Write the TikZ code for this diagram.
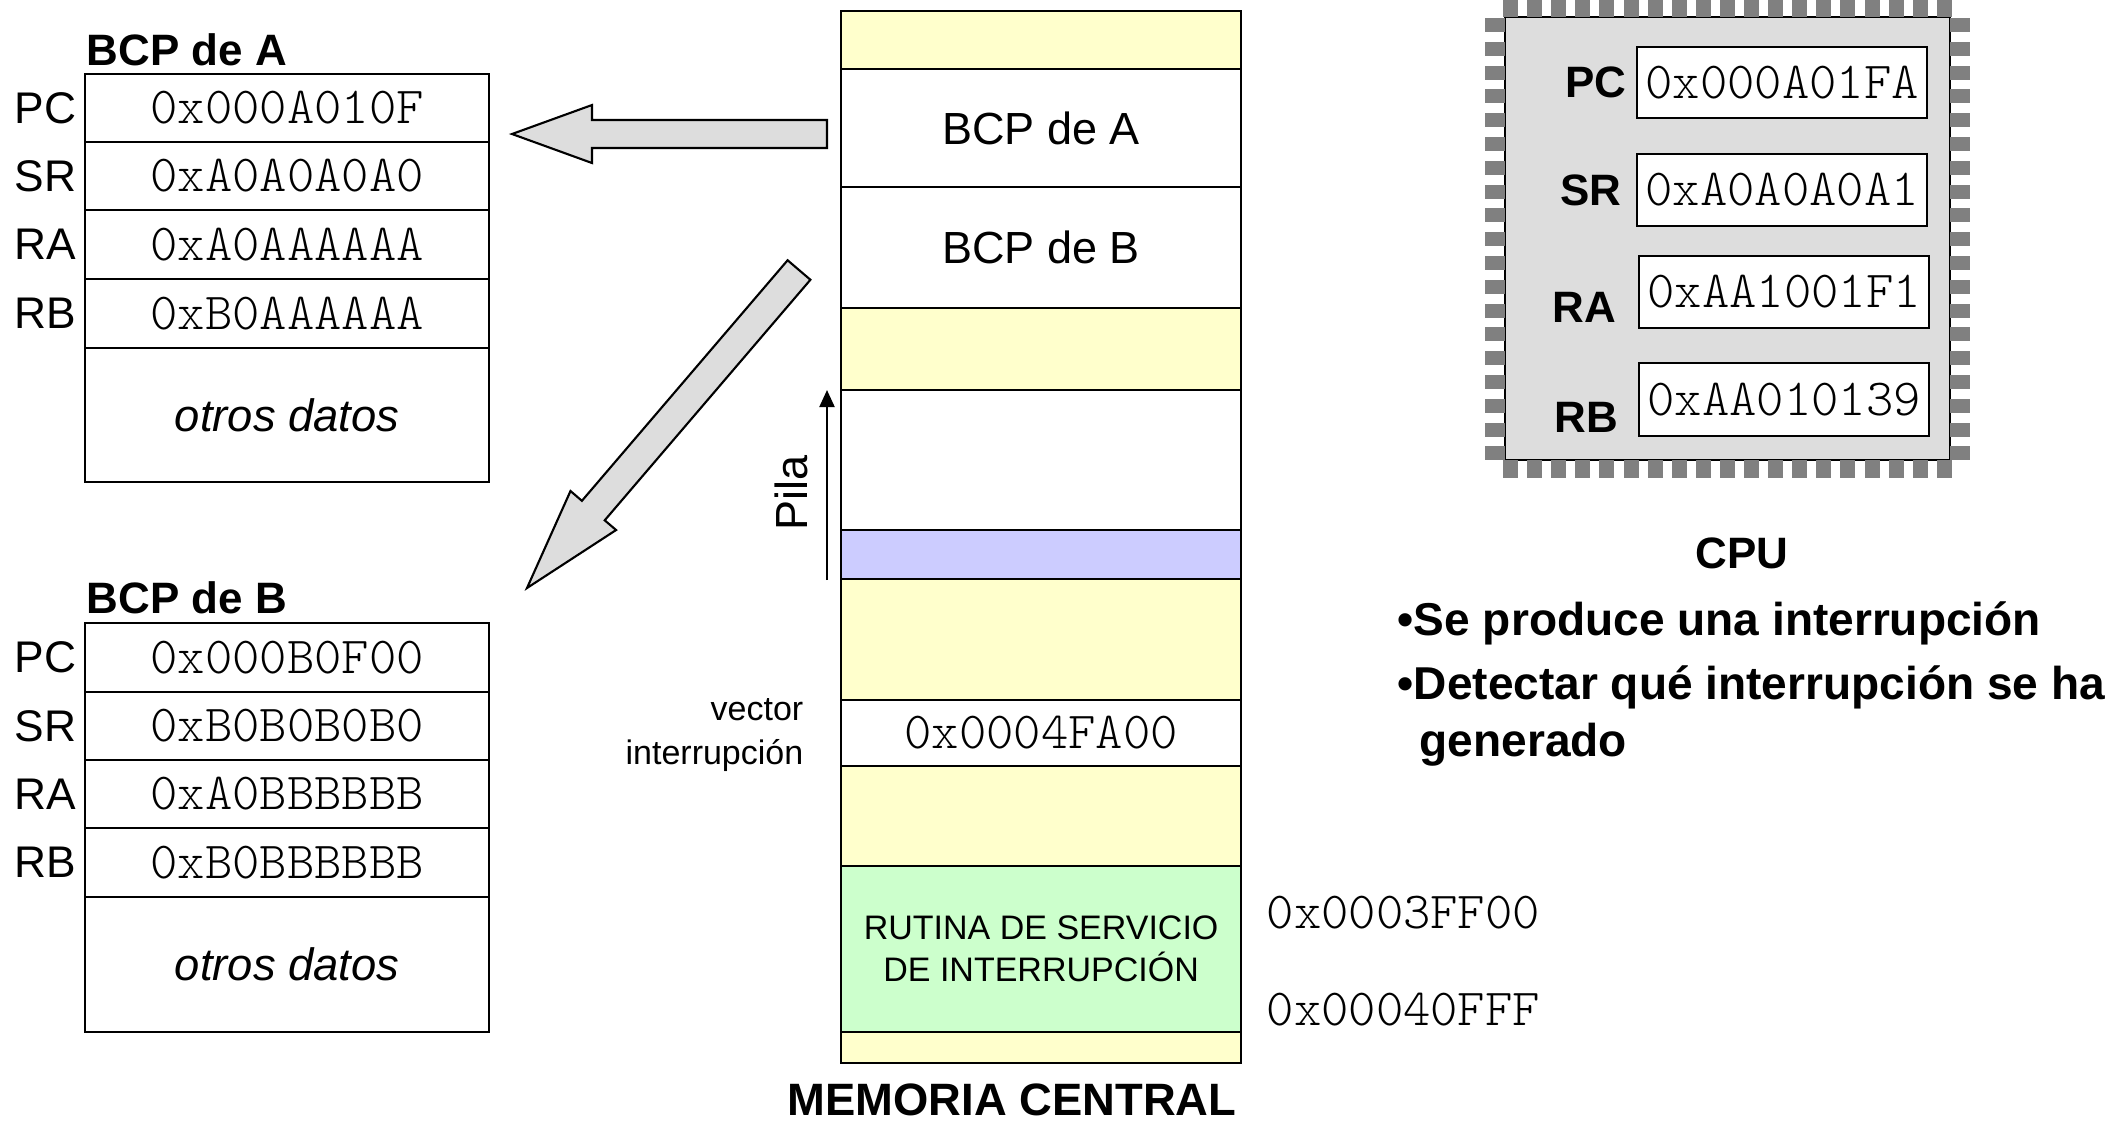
\documentclass[tikz,border=0pt]{standalone}
\usepackage{fontspec}
\setmainfont{Liberation Sans}
\newfontfamily\hexfont{lmmonolt10-regular}[Extension=.otf]
\usetikzlibrary{arrows.meta}
\definecolor{memY}{HTML}{FFFFCC}
\definecolor{memL}{HTML}{CCCCFF}
\definecolor{memG}{HTML}{CCFFCC}
\definecolor{chipG}{HTML}{DDDDDD}
\definecolor{pinG}{HTML}{808080}
\begin{document}
\begin{tikzpicture}[x=0.01cm,y=-0.01cm,
  cell/.style={draw, line width=0.6pt, inner sep=0pt, outer sep=0pt, minimum width=4.04cm, anchor=north west, fill=white},
  mem/.style={draw, line width=0.6pt, inner sep=0pt, outer sep=0pt, minimum width=4cm, anchor=north west},
  reg/.style={draw, line width=0.6pt, inner sep=0pt, outer sep=0pt, minimum width=2.9cm, anchor=north west, fill=white},
  hex/.style={font=\fontsize{14.8pt}{16pt}\selectfont\hexfont},
  lab/.style={font=\fontsize{12.6pt}{14pt}\selectfont, anchor=east, inner sep=0pt},
  blab/.style={font=\fontsize{12.5pt}{14pt}\selectfont\bfseries, anchor=base east, inner sep=0pt},
  ttl/.style={font=\fontsize{12.5pt}{14pt}\selectfont\bfseries, anchor=base west, inner sep=0pt},
  otros/.style={font=\fontsize{12.9pt}{14pt}\selectfont\itshape},
  small/.style={font=\fontsize{9.67pt}{11.95pt}\selectfont, inner sep=0pt},
  bul/.style={font=\fontsize{13.1pt}{15pt}\selectfont\bfseries, anchor=base west, inner sep=0pt},
  bigarrow/.style={fill=chipG, draw=black, line width=0.6pt, line join=miter}
]
\useasboundingbox (0,0) rectangle (2127,1120);

% ---------- BCP de A ----------
\node[ttl] (tA) at (86,65) {BCP de A};
\node[cell, hex, minimum height=0.68cm] (a1) at (85,74) {0x000A010F};
\node[cell, hex, minimum height=0.68cm] (a2) at (85,142) {0xA0A0A0A0};
\node[cell, hex, minimum height=0.69cm] (a3) at (85,210) {0xA0AAAAAA};
\node[cell, hex, minimum height=0.69cm] (a4) at (85,279) {0xB0AAAAAA};
\node[cell, otros, minimum height=1.34cm] (a5) at (85,348) {otros datos};
\node[lab] (lA1) at (77,108) {PC};
\node[lab] (lA2) at (77,176) {SR};
\node[lab] (lA3) at (77,244.5) {RA};
\node[lab] (lA4) at (77,313.5) {RB};

% ---------- BCP de B ----------
\node[ttl] (tB) at (86,613) {BCP de B};
\node[cell, hex, minimum height=0.69cm] (b1) at (85,623) {0x000B0F00};
\node[cell, hex, minimum height=0.68cm] (b2) at (85,692) {0xB0B0B0B0};
\node[cell, hex, minimum height=0.68cm] (b3) at (85,760) {0xA0BBBBBB};
\node[cell, hex, minimum height=0.69cm] (b4) at (85,828) {0xB0BBBBBB};
\node[cell, otros, minimum height=1.35cm] (b5) at (85,897) {otros datos};
\node[lab] (lB1) at (77,657.5) {PC};
\node[lab] (lB2) at (77,726) {SR};
\node[lab] (lB3) at (77,794) {RA};
\node[lab] (lB4) at (77,862.5) {RB};

% ---------- Memoria central ----------
\node[mem, fill=memY, minimum height=0.58cm] (m1) at (841,11) {};
\node[mem, fill=white, minimum height=1.18cm, font=\fontsize{12.8pt}{14pt}\selectfont] (m2) at (841,69) {BCP de A};
\node[mem, fill=white, minimum height=1.21cm, font=\fontsize{12.8pt}{14pt}\selectfont] (m3) at (841,187) {BCP de B};
\node[mem, fill=memY, minimum height=0.82cm] (m4) at (841,308) {};
\node[mem, fill=white, minimum height=1.40cm] (m5) at (841,390) {};
\node[mem, fill=memL, minimum height=0.49cm] (m6) at (841,530) {};
\node[mem, fill=memY, minimum height=1.21cm] (m7) at (841,579) {};
\node[mem, fill=white, minimum height=0.66cm, hex] (m8) at (841,700) {0x0004FA00};
\node[mem, fill=memY, minimum height=1.00cm] (m9) at (841,766) {};
\node[mem, fill=memG, minimum height=1.66cm, font=\fontsize{9.67pt}{11.95pt}\selectfont, align=center] (m10) at (841,866) {RUTINA DE SERVICIO\\DE INTERRUPCI\'ON};
\node[mem, fill=memY, minimum height=0.31cm] (m11) at (841,1032) {};
\node[font=\fontsize{12.9pt}{14pt}\selectfont\bfseries, anchor=base, inner sep=0pt] (memt) at (1012,1115) {MEMORIA CENTRAL};

\node[small, anchor=base east] (vec1) at (804,720) {vector};
\node[small, anchor=base east] (vec2) at (804,764) {interrupci\'on};

\node[hex, anchor=base west, inner sep=0pt] (ad1) at (1266,928) {0x0003FF00};
\node[hex, anchor=base west, inner sep=0pt] (ad2) at (1266,1025) {0x00040FFF};

% Pila
\node[font=\fontsize{12.8pt}{14pt}\selectfont, rotate=90, inner sep=0pt] (pila) at (791,493) {Pila};
\coordinate (pS) at (827,580);
\coordinate (pE) at (827,390);
\draw[line width=0.6pt, -{Triangle[length=0.17cm,width=0.15cm]}] (pS) -- (pE);

% ---------- big arrows ----------
\coordinate (h1) at (827,120);
\coordinate (h2) at (827,148);
\coordinate (hT) at (512,134);
\draw[bigarrow] (h1) -- (592,120) -- (592,105) -- (hT) -- (592,163) -- (592,148) -- (h2) -- cycle;
\coordinate (d1) at (787.6,260.25);
\coordinate (d2) at (810.4,279.75);
\coordinate (dT) at (527,588);
\draw[bigarrow] (d1) -- (d2) -- (604.7,520.3) -- (616.1,530) -- (dT) -- (570.5,491) -- (581.9,500.8) -- cycle;

% ---------- CPU ----------
\fill[chipG] (1505,17) rectangle (1950,460);
\draw[line width=0.6pt] (1505,17) rectangle (1950,460);
\foreach \i in {0,...,18} {
  \fill[pinG] ({1503+\i*24.1},0) rectangle ++(15,17);
  \fill[pinG] ({1503+\i*24.1},460) rectangle ++(15,18);
  \fill[pinG] (1485,{18+\i*23.8}) rectangle ++(20,14);
  \fill[pinG] (1950,{18+\i*23.8}) rectangle ++(20,14);
}
\node[reg, hex, minimum height=0.71cm] (cpc) at (1637,47) {0x000A01FA};
\node[reg, hex, minimum height=0.72cm] (csr) at (1637,154) {0xA0A0A0A1};
\node[reg, hex, minimum height=0.72cm] (cra) at (1639,256) {0xAA1001F1};
\node[reg, hex, minimum height=0.73cm] (crb) at (1639,363) {0xAA010139};
\node[blab] (lc1) at (1627,97) {PC};
\node[blab] (lc2) at (1622,205) {SR};
\node[blab] (lc3) at (1617,322) {RA};
\node[blab] (lc4) at (1619,432) {RB};
\node[font=\fontsize{12.5pt}{14pt}\selectfont\bfseries, anchor=base, inner sep=0pt] (cput) at (1742,568) {CPU};

\node[bul] (bu1) at (1397,635) {•Se produce una interrupci\'on};
\node[bul] (bu2) at (1397,699) {•Detectar qu\'e interrupci\'on se ha};
\node[bul] (bu3) at (1419,756) {generado};
\end{tikzpicture}
\end{document}
